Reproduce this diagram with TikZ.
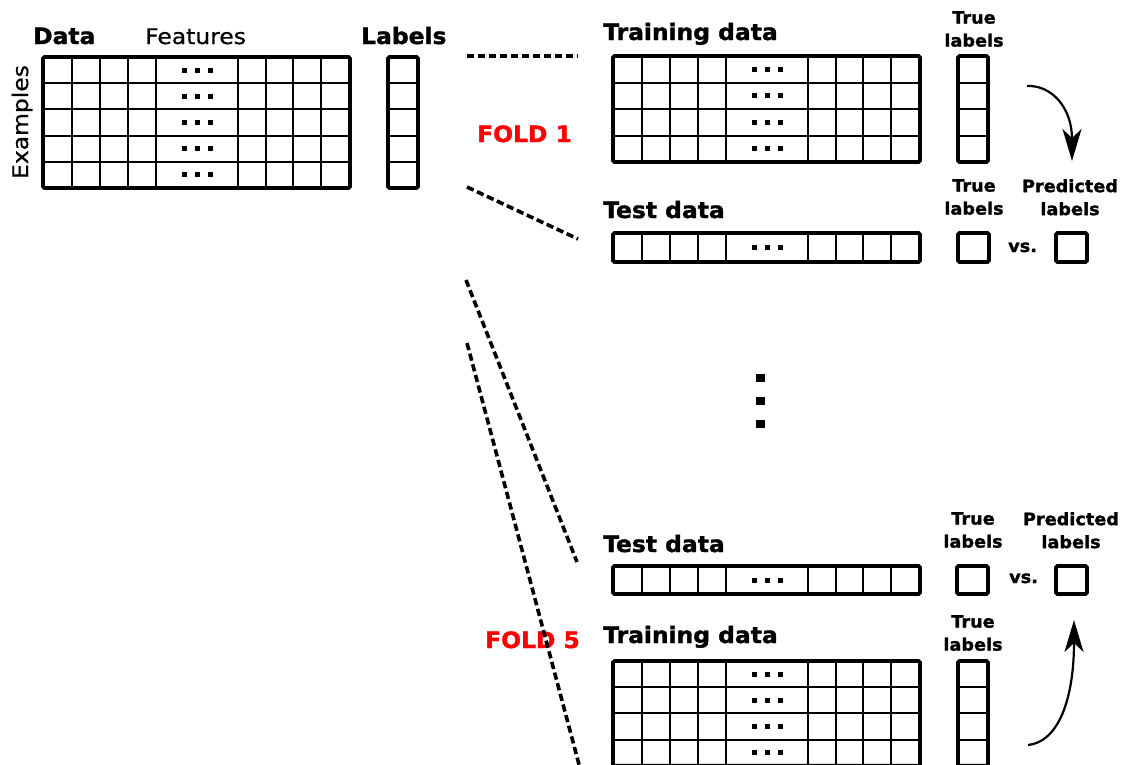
\documentclass[tikz,border=0pt]{standalone}
\usepackage{fontspec}
\setmainfont{DejaVu Sans}
\newfontfamily\vbold[FakeStretch=1.04, FakeBold=1.5]{DejaVu Sans Bold}
\newfontfamily\vreg[FakeStretch=1.09, FakeBold=0.6]{DejaVu Sans}
\usetikzlibrary{arrows.meta}
\tikzset{
  outer/.style={draw, line width=3.7pt, rounded corners=1.5pt, outer sep=0pt, inner sep=0pt},
  inner/.style={line width=2pt},
  dashln/.style={line width=3.6pt, dash pattern=on 7.3pt off 3.7pt},
  big/.style={font=\vbold\fontsize{22.5}{26}\selectfont, inner sep=0pt, anchor=base west},
  small/.style={font=\vbold\fontsize{17}{23}\selectfont, inner sep=0pt, align=center, anchor=north},
  reg/.style={font=\vreg\fontsize{21.5}{25}\selectfont, inner sep=0pt},
  fold/.style={big, text=red},
  bendarrow/.style={line width=2.2pt, -{Stealth[length=32pt,width=19pt,inset=9pt]}}
}
% #1 name, #2 x, #3 y, #4 rows, #5 row height
\newcommand\featmat[5]{%
  \foreach \c in {29,57,85,113,195,223,250,278}{\draw[inner] ({#2+\c},#3) -- ({#2+\c},{#3+#4*#5});}
  \foreach \r in {1,...,#4}{%
    \ifnum\r<#4 \draw[inner] (#2,{#3+\r*#5}) -- ({#2+307},{#3+\r*#5});\fi
    \foreach \d in {-13,0,13}{\fill ({#2+154+\d-2.5},{#3+(\r-0.5)*#5-2.5}) rectangle +(5,5);}
  }
  \node[outer, anchor=north west, minimum width=307pt, minimum height={#4*#5*1pt}] (#1) at (#2,#3) {};
}
\newcommand\labcol[5]{%
  \foreach \r in {1,...,#4}{%
    \ifnum\r<#4 \draw[inner] (#2,{#3+\r*#5}) -- ({#2+30},{#3+\r*#5});\fi
  }
  \node[outer, anchor=north west, minimum width=30pt, minimum height={#4*#5*1pt}] (#1) at (#2,#3) {};
}
\begin{document}
\begin{tikzpicture}[x=1pt,y=-1pt]
\useasboundingbox (0,0) rectangle (1130,764);
\fill[white] (0,0) rectangle (1130,764);

% left: full data set
\node[big] (tdata) at (33,44) {Data};
\node[reg, anchor=base west] (tfeat) at (145,44) {Features};
\node[big] (tlabels) at (361,44) {Labels};
\node[reg, anchor=base, rotate=90] (texam) at (28,122) {Examples};
\featmat{data}{43}{57}{5}{26.2}
\labcol{labels}{388}{57}{5}{26.2}

% fold 1
\node[big] (ttrain1) at (603,40) {Training data};
\featmat{train1}{613}{56}{4}{26.5}
\node[small] (ttrue1) at (974,11) {True\\labels};
\labcol{true1}{958}{56}{4}{26.5}
\node[big] (ttest1) at (603,218) {Test data};
\featmat{test1}{613}{233}{1}{29}
\node[small] (ttrue1b) at (974,179) {True\\labels};
\node[small] (tpred1) at (1070,179) {Predicted\\labels};
\node[outer, anchor=north west, minimum width=31pt, minimum height=29pt] (truebox1) at (958,233) {};
\node[outer, anchor=north west, minimum width=31pt, minimum height=29pt] (predbox1) at (1056,233) {};
\node[small, anchor=base west] (vs1) at (1008,252) {vs.};
\node[fold] (fold1) at (477,142) {FOLD 1};

% fold 5
\node[big] (ttest5) at (603,552) {Test data};
\featmat{test5}{613}{566}{1}{28}
\node[small] (ttrue5) at (973,512) {True\\labels};
\node[small] (tpred5) at (1071,512) {Predicted\\labels};
\node[outer, anchor=north west, minimum width=31pt, minimum height=28pt] (truebox5) at (957,566) {};
\node[outer, anchor=north west, minimum width=31pt, minimum height=28pt] (predbox5) at (1056,566) {};
\node[small, anchor=base west] (vs5) at (1009,583) {vs.};
\node[big] (ttrain5) at (603,643) {Training data};
\featmat{train5}{613}{661}{4}{26.2}
\node[small] (ttrue5b) at (973,615) {True\\labels};
\labcol{true5}{958}{661}{4}{26.2}
\node[fold] (fold5) at (485,648) {FOLD 5};

% dashed split lines
\coordinate (f1a) at (467,56);
\coordinate (f1b) at (578,56);
\coordinate (f1c) at (467,187);
\coordinate (f1d) at (578,239);
\coordinate (f5a) at (466,280);
\coordinate (f5b) at (577,562);
\coordinate (f5c) at (467,343);
\coordinate (f5d) at (581,772);
\draw[dashln] (f1a) -- (f1b);
\draw[dashln] (f1c) -- (f1d);
\draw[dashln] (f5a) -- (f5b);
\draw[dashln] (f5c) -- (f5d);

% curved arrows
\coordinate (ar1s) at (1027,86);
\coordinate (ar1e) at (1072,161);
\draw[bendarrow] (ar1s) .. controls (1052,85) and (1072,108) .. (ar1e);
\coordinate (ar2s) at (1028,745);
\coordinate (ar2e) at (1074,620);
\draw[bendarrow] (ar2s) .. controls (1058,742) and (1074,700) .. (ar2e);

% vertical ellipsis
\foreach \yy in {374,397,420}{\fill (756,\yy) rectangle +(9,8);}
\end{tikzpicture}
\end{document}
